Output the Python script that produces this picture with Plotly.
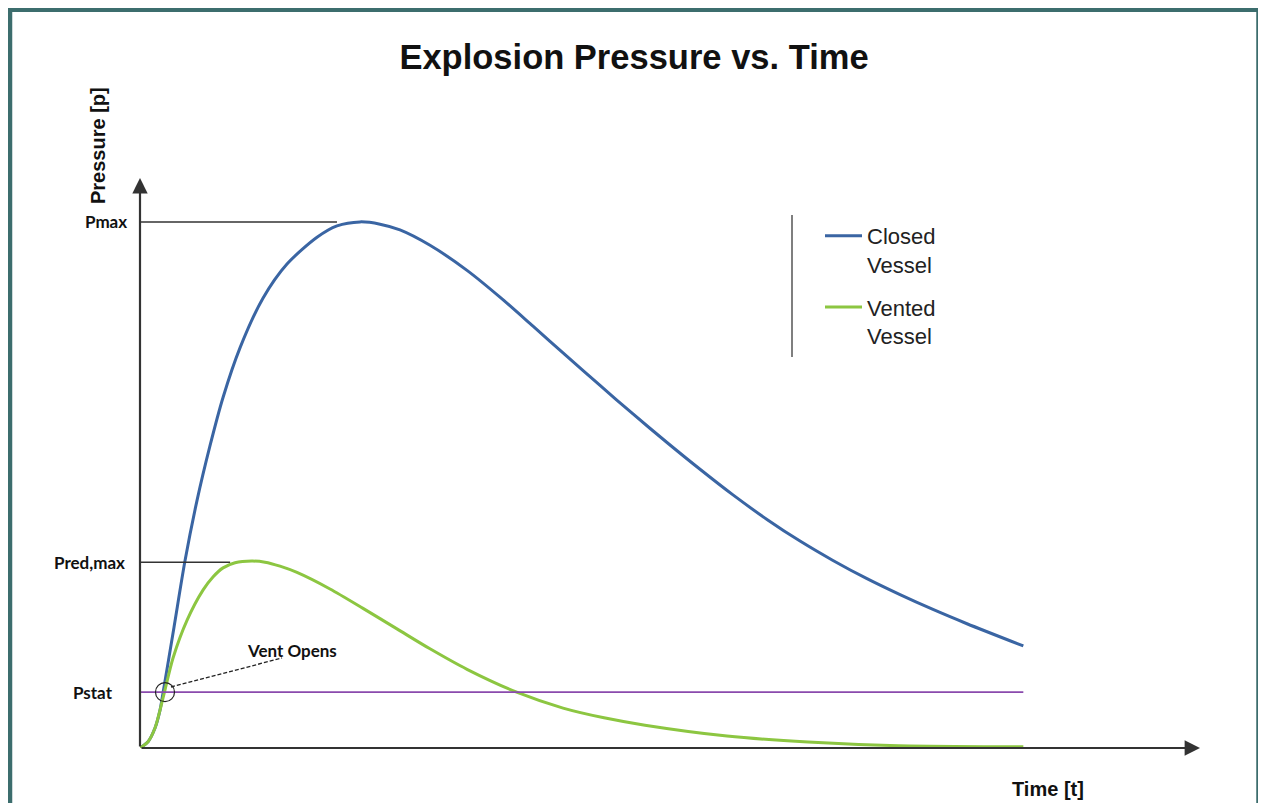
import plotly.graph_objects as go

# ---------------- data (schematic units) ----------------
closed_t = [0, 0.91, 1.70, 2.26, 2.60, 3.85, 5.09, 6.45, 7.92, 9.40, 11.32, 13.92, 16.64,
            20.04, 22.30, 24.91, 27.17, 29.43, 32.83, 37.02, 40.75, 44.49, 48.34, 52.08,
            55.81, 59.66, 63.40, 67.13, 70.98, 74.72, 78.45, 82.30, 86.04, 89.77, 93.62, 100.0]
closed_p = [0, 0.11, 0.35, 0.66, 0.96, 2.12, 3.28, 4.34, 5.30, 6.15, 7.02, 7.89, 8.49,
            8.96, 9.16, 9.23, 9.19, 9.09, 8.82, 8.38, 7.91, 7.40, 6.87, 6.36,
            5.86, 5.36, 4.89, 4.44, 4.01, 3.63, 3.29, 2.97, 2.69, 2.43, 2.18, 1.79]

vented_t = [0, 0.91, 1.70, 2.26, 2.83, 3.74, 5.32, 7.13, 8.26, 9.40, 10.76, 12.68, 14.15,
            15.85, 17.77, 21.51, 25.25, 29.09, 32.83, 37.02, 42.79, 47.89, 52.53, 57.17,
            66.45, 75.62, 84.91, 100.0]
vented_p = [0, 0.11, 0.35, 0.66, 1.02, 1.58, 2.24, 2.77, 3.00, 3.16, 3.25, 3.28, 3.26,
            3.19, 3.08, 2.79, 2.45, 2.09, 1.74, 1.38, 0.97, 0.70, 0.53, 0.40,
            0.21, 0.105, 0.045, 0.02]

P_MAX = 9.23
P_RED_MAX = 3.26
P_STAT = 0.98
T_END = 100.0
T_PMAX_LINE_END = 22.3
T_PRED_LINE_END = 10.2
T_VENT_OPEN = 2.83

pressure_labels = ["Pmax", "Pred,max", "Pstat"]
series_names = ["Closed<br>Vessel", "Vented<br>Vessel"]

# ---------------- layout geometry ----------------
OFF = 8                      # page body margin
W, H = 1258, 795
L, R, T, B = 132, 66, 170, 55
PW, PH = W - L - R, H - T - B


def px(x_page):
    return (x_page - OFF - L) / PW


def py(y_page):
    return (H - B - (y_page - OFF)) / PH


BLUE = "#3a65a3"
GREEN = "#8cc641"
PURPLE = "#8a4aad"
AXIS = "#333333"
TEAL = "#3c6d6d"

fig = go.Figure()

fig.add_trace(go.Scatter(x=closed_t, y=closed_p, mode="lines", name=series_names[0],
                         legendgroup="a",
                         line=dict(color=BLUE, width=3, shape="spline", smoothing=0.8)))
fig.add_trace(go.Scatter(x=vented_t, y=vented_p, mode="lines", name=series_names[1],
                         legendgroup="b",
                         line=dict(color=GREEN, width=3, shape="spline", smoothing=0.8)))

# reference lines
fig.add_trace(go.Scatter(x=[0, T_PMAX_LINE_END], y=[P_MAX, P_MAX], mode="lines",
                         showlegend=False, line=dict(color=AXIS, width=1.5)))
fig.add_trace(go.Scatter(x=[0, T_PRED_LINE_END], y=[P_RED_MAX, P_RED_MAX], mode="lines",
                         showlegend=False, line=dict(color=AXIS, width=1.5)))
fig.add_trace(go.Scatter(x=[0, T_END], y=[P_STAT, P_STAT], mode="lines",
                         showlegend=False, line=dict(color=PURPLE, width=1.6)))
# vent-open circle
fig.add_trace(go.Scatter(x=[T_VENT_OPEN], y=[P_STAT], mode="markers", showlegend=False,
                         marker=dict(symbol="circle-open", size=19, color="#222",
                                     line=dict(width=1.2, color="#222"))))

annotations = []
# axes with arrows
annotations.append(dict(x=120, y=0, ax=0, ay=0, xref="x", yref="y", axref="x", ayref="y",
                        text="", showarrow=True, arrowhead=2, arrowsize=1.4, arrowwidth=2.2,
                        arrowcolor=AXIS, standoff=0))
annotations.append(dict(x=0, y=10, ax=0, ay=0, xref="x", yref="y", axref="x", ayref="y",
                        text="", showarrow=True, arrowhead=2, arrowsize=1.4, arrowwidth=2.2,
                        arrowcolor=AXIS, standoff=0))

LBL = dict(family="Lato, Open Sans, sans-serif", size=17, color="#111")
annotations.append(dict(x=px(129), y=P_MAX, xref="paper", yref="y", text="<b>" + pressure_labels[0] + "</b>",
                        showarrow=False, xanchor="right", yanchor="middle", font=LBL))
annotations.append(dict(x=px(127), y=P_RED_MAX, xref="paper", yref="y", text="<b>" + pressure_labels[1] + "</b>",
                        showarrow=False, xanchor="right", yanchor="middle", font=LBL))
annotations.append(dict(x=px(93), y=P_STAT, xref="paper", yref="y", text="<b>" + pressure_labels[2] + "</b>",
                        showarrow=False, xanchor="center", yanchor="middle", font=LBL))
annotations.append(dict(x=px(292), y=py(650), xref="paper", yref="paper", text="<b>Vent Opens</b>",
                        showarrow=False, xanchor="center", yanchor="middle", font=LBL))

AX = dict(family="Liberation Sans, Arial, sans-serif", size=20, color="#111")
annotations.append(dict(x=px(98), y=py(146), xref="paper", yref="paper", text="<b>Pressure [p]</b>",
                        textangle=-90, showarrow=False, xanchor="center", yanchor="middle", font=AX))
annotations.append(dict(x=px(1048), y=py(789), xref="paper", yref="paper", text="<b>Time [t]</b>",
                        showarrow=False, xanchor="center", yanchor="middle", font=AX))

shapes = []
# dashed leader line
shapes.append(dict(type="line", xref="paper", yref="paper", x0=px(171), y0=py(687),
                   x1=px(282), y1=py(658), line=dict(color="#222", width=1.3, dash="4px,2px")))
# legend side bar
shapes.append(dict(type="line", xref="paper", yref="paper", x0=px(792), y0=py(215),
                   x1=px(792), y1=py(357), line=dict(color="#555", width=1.5)))
# teal frame
shapes.append(dict(type="line", xref="paper", yref="paper", x0=px(9.5), y0=py(9),
                   x1=px(9.5), y1=py(830), line=dict(color=TEAL, width=5.5)))
shapes.append(dict(type="line", xref="paper", yref="paper", x0=px(7), y0=py(9),
                   x1=px(1262), y1=py(9), line=dict(color=TEAL, width=6)))
shapes.append(dict(type="line", xref="paper", yref="paper", x0=px(1259), y0=py(9),
                   x1=px(1259), y1=py(830), line=dict(color=TEAL, width=5.5)))

fig.update_layout(
    width=W, height=H,
    margin=dict(l=L, r=R, t=T, b=B),
    paper_bgcolor="white", plot_bgcolor="white",
    title=dict(text="<b>Explosion Pressure vs. Time</b>", x=(634 - OFF) / W, xanchor="center",
               y=1 - (57 - OFF) / H, yanchor="middle",
               font=dict(family="Liberation Sans, Arial, sans-serif", size=34.5, color="#111")),
    xaxis=dict(range=[0, 120], visible=False, fixedrange=True),
    yaxis=dict(range=[0, 10], visible=False, fixedrange=True),
    showlegend=True,
    legend=dict(x=px(820), y=py(215), xanchor="left", yanchor="top",
                font=dict(family="Liberation Sans, Arial, sans-serif", size=22, color="#222"),
                valign="top", traceorder="grouped", tracegroupgap=11, itemwidth=37,
                bgcolor="rgba(0,0,0,0)", borderwidth=0),
    annotations=annotations,
    shapes=shapes,
)

fig.write_html("out.html")
